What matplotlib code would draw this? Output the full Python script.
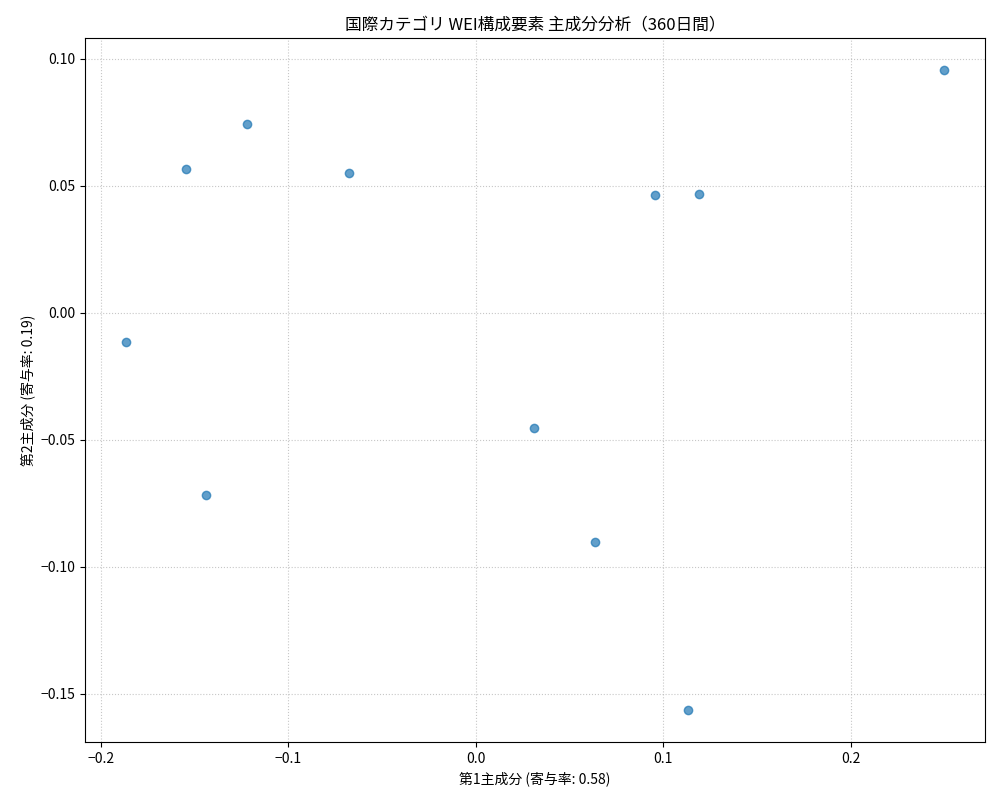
import matplotlib
matplotlib.use("Agg")
import matplotlib.pyplot as plt

plt.rcParams['font.family'] = ['Noto Sans CJK JP', 'DejaVu Sans']
plt.rcParams['axes.unicode_minus'] = True

pc1 = [0.2499, -0.1220, -0.1545, -0.0677, 0.0959, 0.1193, -0.1865, 0.0314, -0.1438, 0.0639, 0.1135]
pc2 = [0.0955, 0.0743, 0.0566, 0.0550, 0.0464, 0.0468, -0.0114, -0.0456, -0.0719, -0.0904, -0.1564]
ratio1 = 0.58
ratio2 = 0.19

fig, ax = plt.subplots(figsize=(10, 8), dpi=100)
ax.scatter(pc1, pc2, alpha=0.7)
ax.set_title("国際カテゴリ WEI構成要素 主成分分析（360日間）")
ax.set_xlabel(f"第1主成分 (寄与率: {ratio1:.2f})")
ax.set_ylabel(f"第2主成分 (寄与率: {ratio2:.2f})")
ax.grid(True, linestyle=':', alpha=0.7)
fig.subplots_adjust(left=0.085, right=0.985, top=0.9525, bottom=0.0725)
plt.savefig("out.png")
